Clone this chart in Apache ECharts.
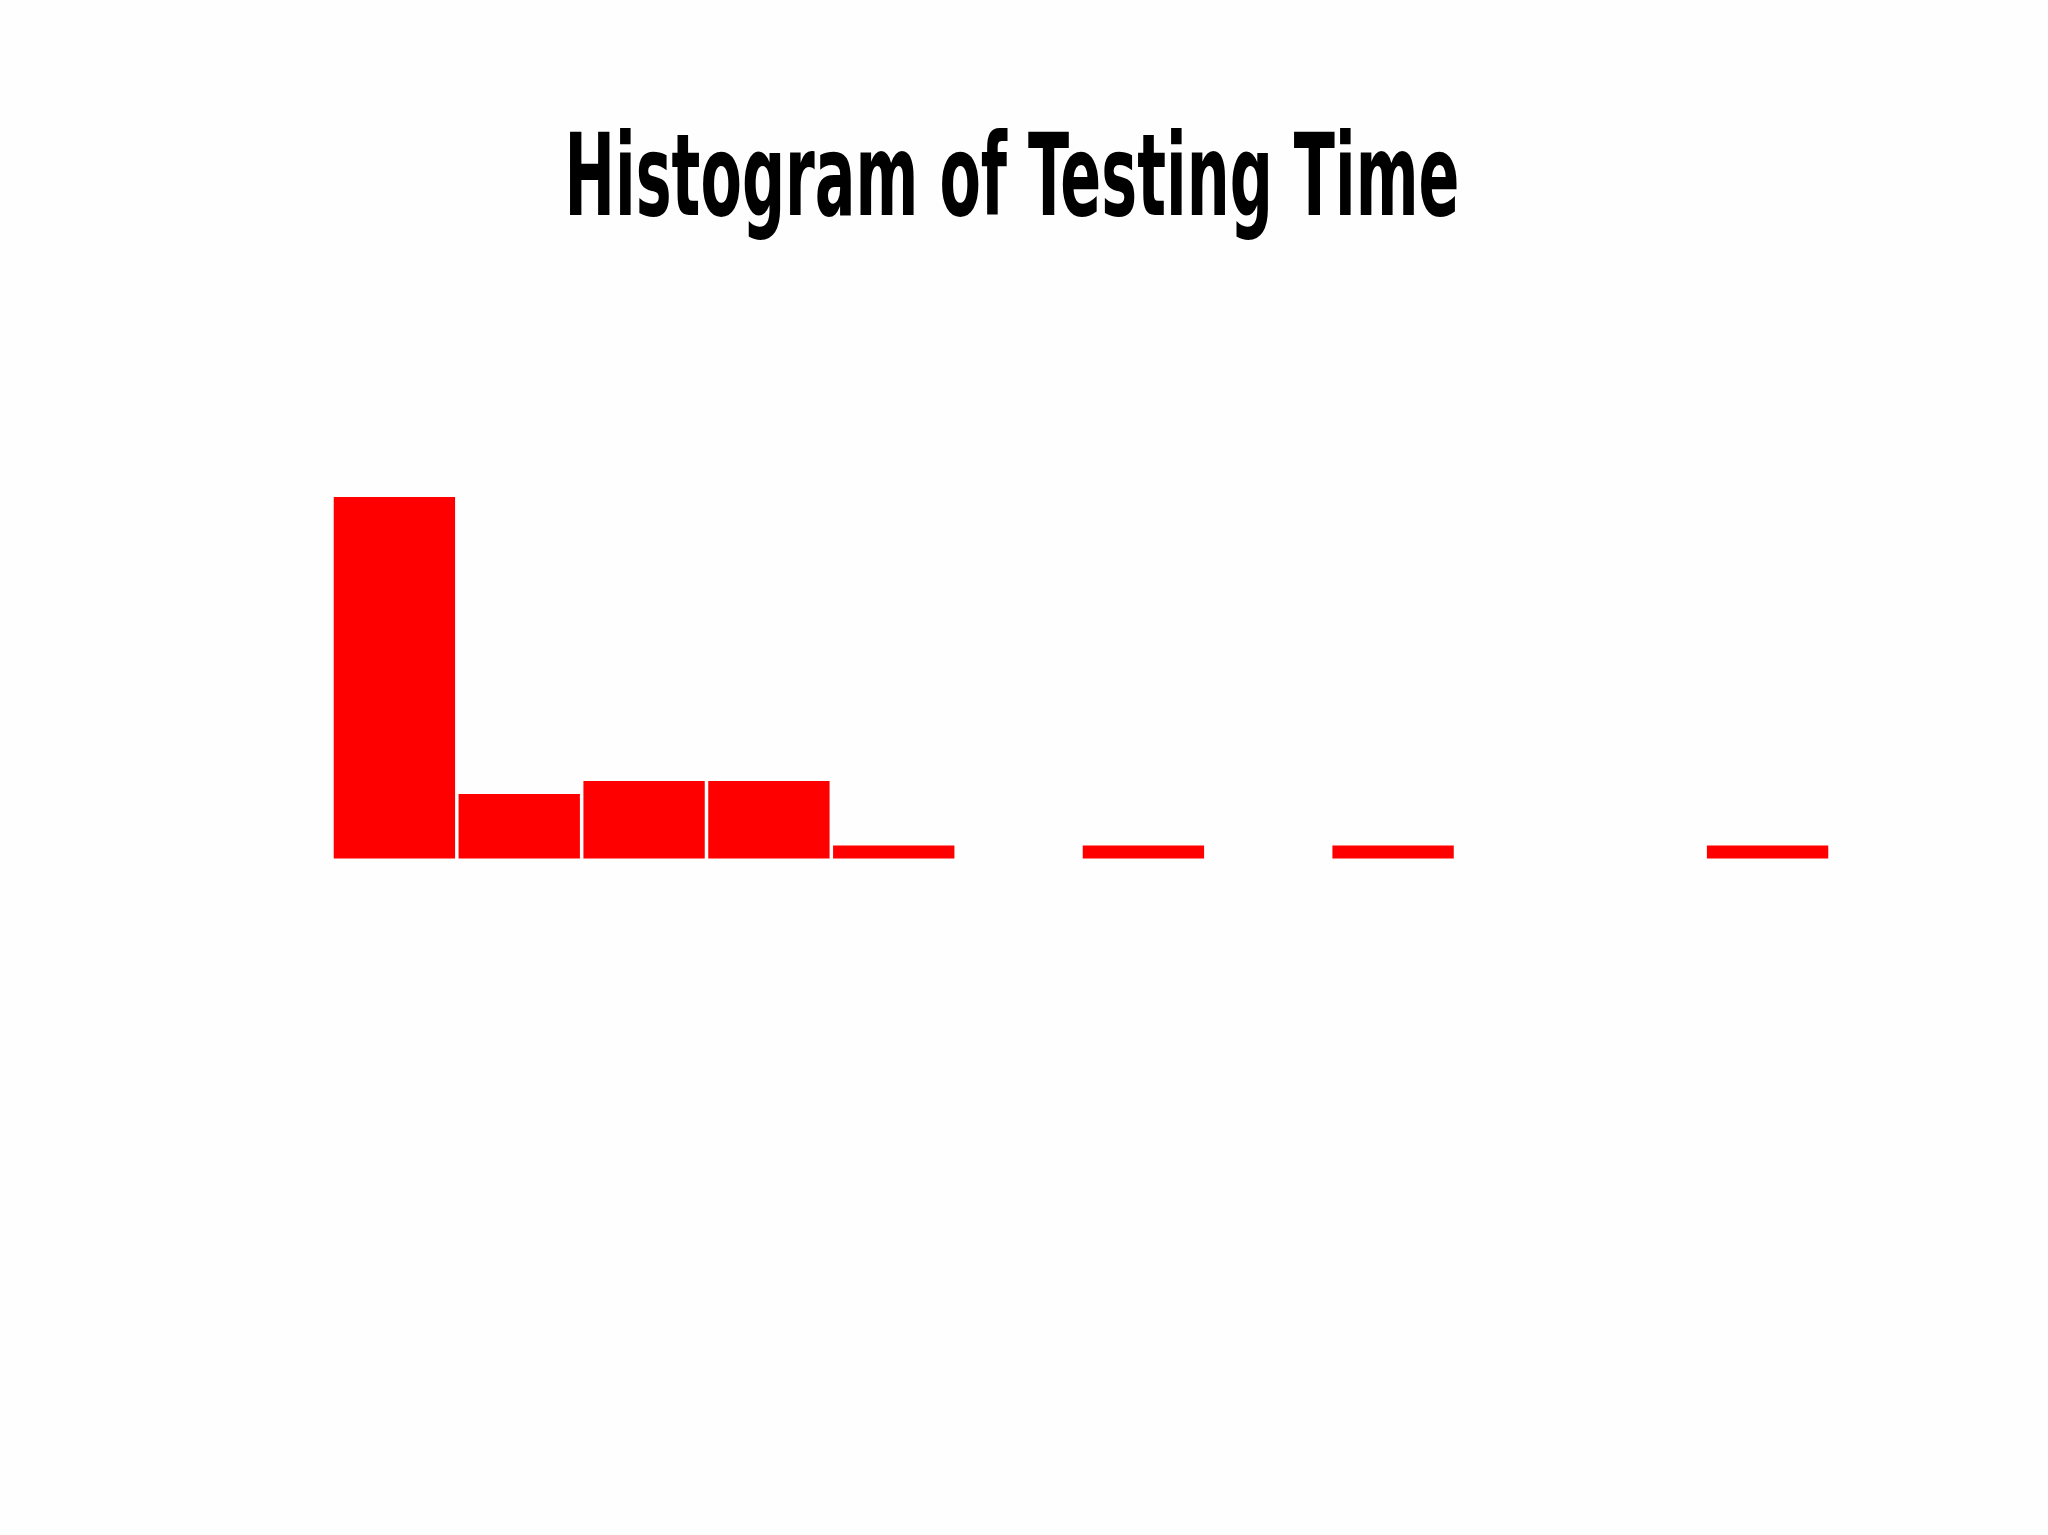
<!DOCTYPE html>
<html>
<head>
<meta charset="utf-8">
<title>Histogram of Testing Time</title>
<script src="https://cdn.jsdelivr.net/npm/echarts@6/dist/echarts.min.js"></script>
<style>
  html, body { margin: 0; padding: 0; background: #fefefe; }
  #chart { width: 2048px; height: 1535px; }
</style>
</head>
<body>
<div id="chart"></div>
<script>
// Histogram bins (12 equal-width bins) and their counts
const binLabels = ["1", "2", "3", "4", "5", "6", "7", "8", "9", "10", "11", "12"];
const binCounts = [28, 5, 6, 6, 1, 0, 1, 0, 1, 0, 0, 1];
const titleText = "Histogram of Testing Time";

const chart = echarts.init(document.getElementById("chart"));

// Title font is a tall condensed face; squeeze a bold sans to the same width
const titleFont = "bold 114px 'DejaVu Sans Condensed', 'DejaVu Sans', sans-serif";
const titleWidth = 895;
const ctx = document.createElement("canvas").getContext("2d");
ctx.font = titleFont;
const squeeze = titleWidth / ctx.measureText(titleText).width;

const option = {
  backgroundColor: "#fefefe",
  animation: false,
  grid: { left: 332, right: 218, top: 497, bottom: 676.5 },
  xAxis: {
    type: "category",
    data: binLabels,
    show: false,
  },
  yAxis: {
    type: "value",
    min: 0,
    max: 28,
    show: false,
  },
  series: [
    {
      type: "bar",
      data: binCounts,
      barCategoryGap: "2.8%",
      itemStyle: { color: "#ff0000" },
    },
  ],
  graphic: [
    {
      type: "text",
      x: 1012,
      y: 185,
      scaleX: squeeze,
      style: {
        text: titleText,
        font: titleFont,
        fill: "#000000",
        align: "center",
        verticalAlign: "middle",
      },
    },
  ],
};

chart.setOption(option);
</script>
</body>
</html>
